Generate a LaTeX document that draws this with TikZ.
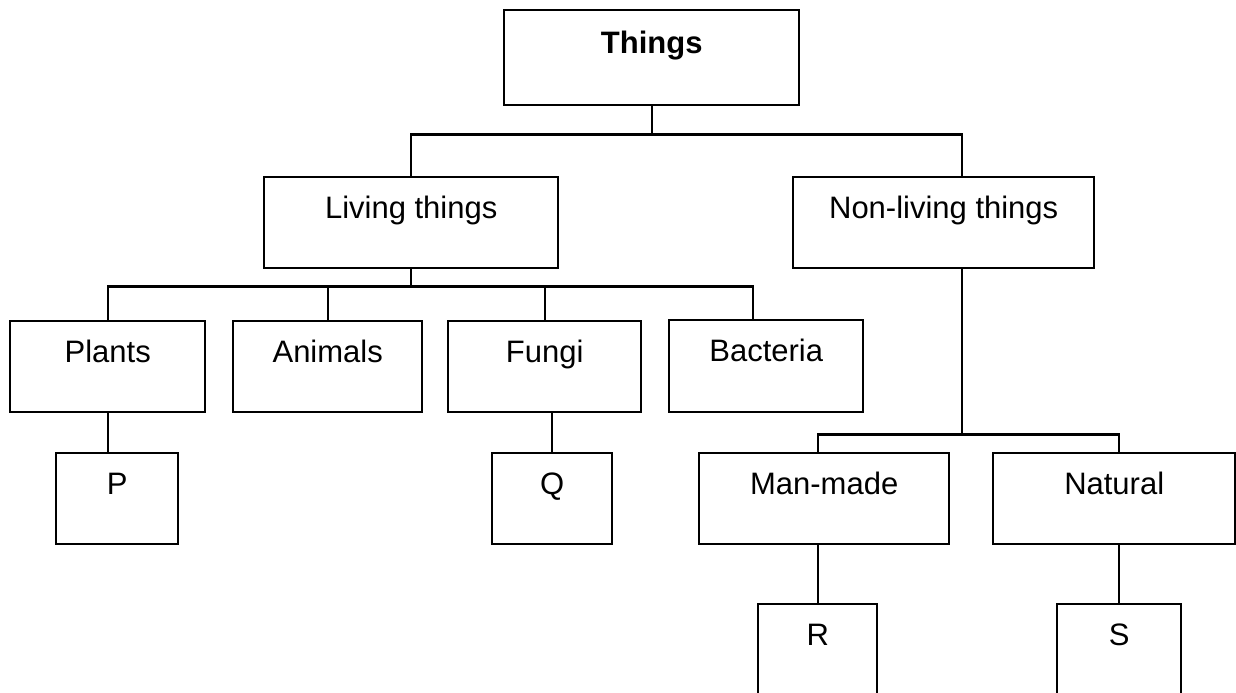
\documentclass[tikz,border=0pt]{standalone}
\usepackage{fontspec}
\setmainfont{Liberation Sans}
\begin{document}
\begin{tikzpicture}[x=0.5pt,y=-0.5pt,line width=1.2pt,line join=miter,
	khung/.style={draw,line width=1.2pt,inner sep=0pt,anchor=north west,text height=20.5pt,text depth=25pt,font=\fontsize{15.5}{18}\selectfont}]
	\useasboundingbox (0,0) rectangle (1236,692);
	% Các ô (toạ độ tính theo điểm ảnh)
	\node[khung,minimum width=147.5pt,text height=21.5pt,text depth=26pt,font=\fontsize{15.5}{18}\selectfont\bfseries] (things) at (503,9) {Things};
	\node[khung,minimum width=147pt] (living) at (263,176) {Living things};
	\node[khung,minimum width=150.5pt] (nonliving) at (792,176) {Non-living things};
	\node[khung,minimum width=97.5pt] (plants) at (9,320) {Plants};
	\node[khung,minimum width=94.5pt] (animals) at (232,320) {Animals};
	\node[khung,minimum width=96.5pt] (fungi) at (447,320) {Fungi};
	\node[khung,minimum width=97pt,text depth=25.5pt] (bacteria) at (668,319) {Bacteria};
	\node[khung,minimum width=61pt] (p) at (55,452) {P};
	\node[khung,minimum width=60pt] (q) at (491,452) {Q};
	\node[khung,minimum width=125pt] (manmade) at (698,452) {Man-made};
	\node[khung,minimum width=121pt] (natural) at (992,452) {Natural};
	\node[khung,minimum width=59.5pt,text depth=27pt] (r) at (757,603) {R};
	\node[khung,minimum width=62pt,text depth=27pt] (s) at (1056,603) {S};
	% Các đường nối
	\draw (things.south) -- ++(0,28) -| (living.north);
	\draw (things.south) ++(0,28) -| ([xshift=9pt]nonliving.north);
	\draw (living.south) -- ++(0,17) coordinate (nhanh1);
	\foreach \con in {plants,animals,fungi} \draw (nhanh1) -| (\con.north);
	\draw (nhanh1) -| ([xshift=-6.5pt]bacteria.north);
	\draw ([xshift=9pt]nonliving.south) -- ++(0,165) coordinate (nhanh2);
	\draw (nhanh2) -| (r.north |- manmade.north);
	\draw (nhanh2) -| (s.north |- natural.north);
	\draw (plants.south) -- (plants.south |- p.north);
	\draw (q.north |- fungi.south) -- (q.north);
	\draw (r.north |- manmade.south) -- (r.north);
	\draw (s.north |- natural.south) -- (s.north);
\end{tikzpicture}
\end{document}
